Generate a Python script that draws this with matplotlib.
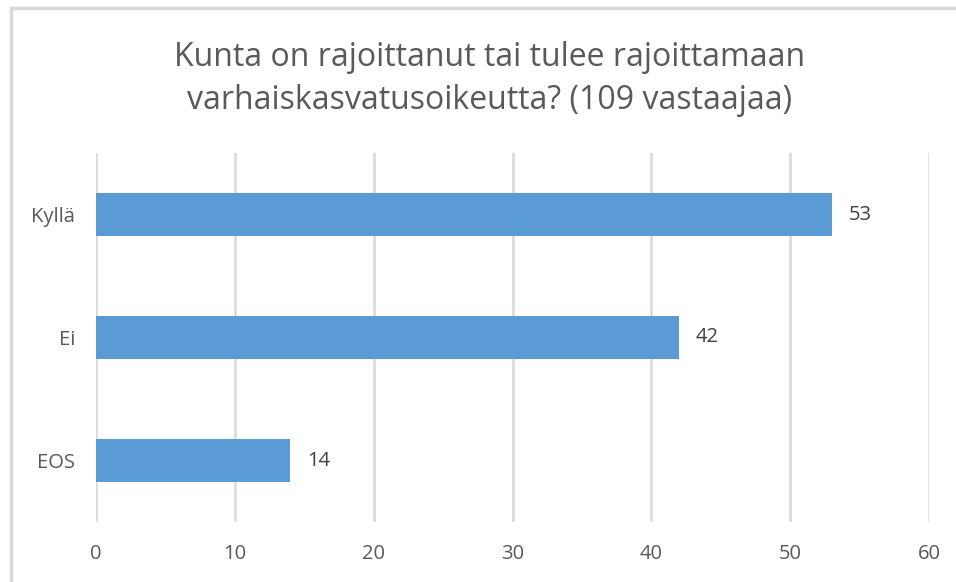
import matplotlib
matplotlib.use("Agg")
import matplotlib.pyplot as plt
from matplotlib.lines import Line2D

categories = ["Kyllä", "Ei", "EOS"]
values = [53, 42, 14]
xticks = [0, 10, 20, 30, 40, 50, 60]
title = "Kunta on rajoittanut tai tulee rajoittamaan\nvarhaiskasvatusoikeutta? (109 vastaajaa)"

plt.rcParams['font.family'] = ['Open Sans', 'DejaVu Sans']

W, H = 956, 582
fig = plt.figure(figsize=(W / 100, H / 100), dpi=100)
ax = fig.add_axes([96 / W, 1 - 522 / H, (929 - 96) / W, (522 - 153) / H])

# figure border (left and top visible)
bx, by = 11 / W, 1 - 8 / H
fig.lines.append(Line2D([bx, bx], [-0.05, by], transform=fig.transFigure,
                        color="#d9d9d9", linewidth=2.5))
fig.lines.append(Line2D([bx, 1.05], [by, by], transform=fig.transFigure,
                        color="#d9d9d9", linewidth=2.5))

y = list(range(len(categories)))
ax.barh(y, values, height=0.35, color="#5B9BD5", zorder=3)
for yi, v in zip(y, values):
    ax.text(v + 1.2, yi, str(v), va="center", ha="left", fontsize=14.5, color="#404040")

ax.set_ylim(len(categories) - 0.5, -0.5)
ax.set_xlim(0, 60)
ax.set_xticks(xticks)
ax.set_yticks(y)
ax.set_yticklabels(categories)
ax.grid(axis="x", color="#d9d9d9", linewidth=1.8, zorder=0)
for s in ax.spines.values():
    s.set_visible(False)
ax.tick_params(axis="both", length=0, labelsize=14.5, labelcolor="#595959")
ax.tick_params(axis="x", pad=16)
ax.tick_params(axis="y", pad=15)

fig.text(490 / W, 1 - 79 / H, title, ha="center", va="center", fontsize=23,
         color="#595959", linespacing=1.38)

fig.savefig("out.png", dpi=100)
